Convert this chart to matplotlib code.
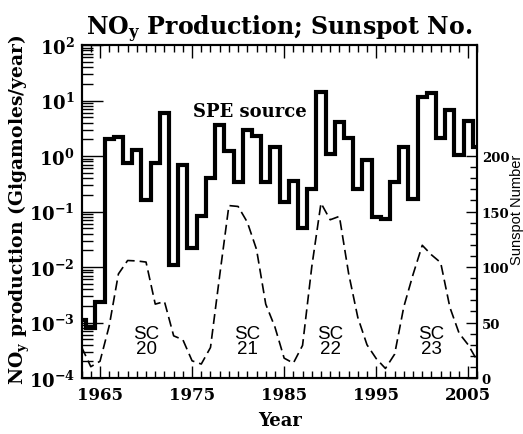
import numpy as np
import matplotlib
matplotlib.use("Agg")
import matplotlib.pyplot as plt
from matplotlib.ticker import MultipleLocator, FixedLocator, NullFormatter

plt.rcParams['font.family'] = 'DejaVu Serif'
plt.rcParams['font.weight'] = 'bold'
plt.rcParams['mathtext.default'] = 'regular'

# yearly NOy production from solar proton events (gigamoles/year)
years = np.arange(1963, 2007)
noy = [1.1e-3, 7.9e-4, 2.3e-3, 2.0, 2.2, 0.75, 1.28, 0.16, 0.74, 6.0,
       0.011, 0.69, 0.022, 0.082, 0.40, 3.6, 1.25, 0.34, 2.9, 2.3,
       0.34, 1.43, 0.15, 0.36, 0.050, 0.25, 14.0, 1.09, 4.1, 2.1,
       0.25, 0.86, 0.081, 0.073, 0.34, 1.43, 0.17, 11.4, 13.5, 2.1,
       6.8, 1.04, 4.3, 1.43]

# yearly mean sunspot number
sunspots = [27.9, 10.2, 15.1, 47.0, 93.8, 105.9, 105.5, 104.5, 66.6, 68.9,
            38.0, 34.5, 15.5, 12.6, 27.5, 92.5, 155.4, 154.6, 140.4, 115.9,
            66.6, 45.9, 17.9, 13.4, 29.4, 100.2, 157.6, 142.6, 145.7, 94.3,
            54.6, 29.9, 17.5, 8.6, 21.5, 64.3, 93.3, 119.6, 111.0, 104.0,
            63.7, 40.4, 29.8, 15.2]

cycle_labels = ["SC\n20", "SC\n21", "SC\n22", "SC\n23"]
cycle_years = [1970, 1981, 1990, 2001]

fig = plt.figure(figsize=(5.23, 4.35), dpi=100)
ax = fig.add_axes([0.156, 0.1287, 0.757, 0.7653])

ax.step(years, noy, where='mid', color='black', lw=3, solid_joinstyle='miter')
ax.set_yscale('log')
ax.set_ylim(1e-4, 1e2)
ax.set_xlim(1963, 2006)

ax.xaxis.set_major_locator(FixedLocator([1965, 1975, 1985, 1995, 2005]))
ax.xaxis.set_minor_locator(MultipleLocator(1))
ax.tick_params(axis='x', which='major', direction='in', length=9, width=1, top=True,
               labelsize=12, pad=6)
ax.tick_params(axis='x', which='minor', direction='in', length=5, width=1, top=True)
ax.tick_params(axis='y', which='major', direction='in', length=15, width=1, right=False,
               labelsize=13, pad=5)
ax.tick_params(axis='y', which='minor', direction='in', length=8, width=1, right=False)
ax.yaxis.set_minor_formatter(NullFormatter())
for s in ax.spines.values():
    s.set_linewidth(1.5)

ax.text(1975.1, 6.6, "SPE source", fontsize=13, fontweight='bold', va='center', ha='left')

ax2 = ax.twinx()
ax2.plot(years, sunspots, color='black', lw=1.2, dashes=(6, 3))
ax2.set_ylim(0, 300)
ax2.set_yticks([0, 50, 100, 150, 200])
ax2.yaxis.set_minor_locator(FixedLocator(np.arange(10, 200, 10)))
ax2.tick_params(axis='y', which='major', direction='in', length=8, width=1, labelsize=9.5, pad=3)
ax2.tick_params(axis='y', which='minor', direction='in', length=5, width=1)
for s in ax2.spines.values():
    s.set_linewidth(1.5)

for lab, yr in zip(cycle_labels, cycle_years):
    ax2.text(yr, 33.4, lab, fontsize=13.5, fontweight='normal', family='Liberation Sans',
             ha='center', va='center', linespacing=0.8)

fig.text(279 / 523, 1 - 35 / 435, "NO$_\\mathregular{y}$ Production; Sunspot No.",
         fontsize=17, fontweight='bold', ha='center', va='baseline')
fig.text(279.7 / 523, 1 - 421 / 435, "Year", fontsize=13, fontweight='bold',
         ha='center', va='center')
fig.text(19 / 523, 1 - 210 / 435, "NO$_\\mathregular{y}$ production (Gigamoles/year)",
         fontsize=13.5, fontweight='bold', ha='center', va='center', rotation=90)
fig.text(517 / 523, 1 - 210 / 435, "Sunspot Number", fontsize=10.5, fontweight='normal',
         family='Liberation Sans', ha='center', va='center', rotation=90)

fig.savefig("out.png", dpi=100)
